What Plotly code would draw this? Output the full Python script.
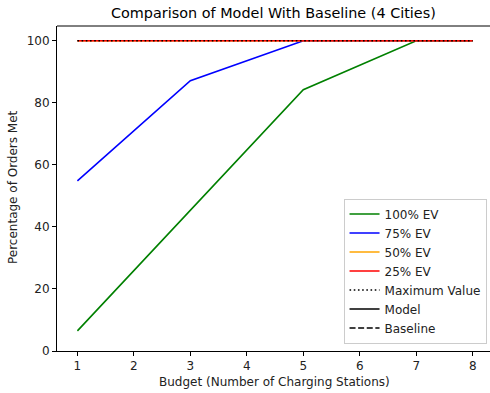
import plotly.graph_objects as go

budget = [1, 3, 5, 7, 8]
ev100 = [6.5, 45.4, 84.2, 100, 100]
ev75 = [54.8, 87.1, 100, 100, 100]
ev50 = [100, 100, 100, 100, 100]
ev25 = [100, 100, 100, 100, 100]
max_value = [100, 100, 100, 100, 100]
x_ticks = [1, 2, 3, 4, 5, 6, 7, 8]
y_ticks = [0, 20, 40, 60, 80, 100]

FONT = "DejaVu Sans"
LW = 1.6
FS = 12

fig = go.Figure()
fig.add_trace(go.Scatter(x=budget, y=ev100, mode="lines", name="100% EV",
                         line=dict(color="#008000", width=LW)))
fig.add_trace(go.Scatter(x=budget, y=ev75, mode="lines", name="75% EV",
                         line=dict(color="#0000ff", width=LW)))
fig.add_trace(go.Scatter(x=budget, y=ev50, mode="lines", name="50% EV",
                         line=dict(color="#ffa500", width=LW)))
fig.add_trace(go.Scatter(x=budget, y=ev25, mode="lines", name="25% EV",
                         line=dict(color="#ff0000", width=LW)))
fig.add_trace(go.Scatter(x=budget, y=max_value, mode="lines", name="Maximum Value",
                         line=dict(color="black", width=LW, dash="1.6px,2.6px")))
fig.add_trace(go.Scatter(x=[None], y=[None], mode="lines", name="Model",
                         line=dict(color="black", width=LW)))
fig.add_trace(go.Scatter(x=[None], y=[None], mode="lines", name="Baseline",
                         line=dict(color="black", width=LW, dash="6px,2.6px")))

axis_common = dict(showline=True, linecolor="black", linewidth=1, showgrid=False,
                   mirror=False, zeroline=False, ticks="outside", ticklen=4, tickwidth=1,
                   tickcolor="black", tickfont=dict(family=FONT, size=FS, color="#222"))

fig.update_layout(
    template="none",
    width=490, height=393,
    margin=dict(l=57, r=0, t=26, b=42, pad=0),
    plot_bgcolor="white", paper_bgcolor="white",
    font=dict(family=FONT, size=FS, color="#222"),
    xaxis=dict(range=[0.6385, 8.3065], tickvals=x_ticks, **axis_common),
    yaxis=dict(range=[0, 104.74], tickvals=y_ticks, **axis_common),
    showlegend=True,
    legend=dict(x=0.992, y=0.023, xanchor="right", yanchor="bottom",
                bgcolor="rgba(255,255,255,0.8)", bordercolor="#cccccc", borderwidth=1,
                font=dict(family=FONT, size=FS, color="#222"),
                tracegroupgap=0),
    annotations=[
        dict(text="Comparison of Model With Baseline (4 Cities)", xref="paper", yref="paper",
             x=0.5, y=1, xanchor="center", yanchor="middle", yshift=13.5, showarrow=False,
             font=dict(family=FONT, size=14.4, color="black")),
        dict(text="Budget (Number of Charging Stations)", xref="paper", yref="paper",
             x=0.5, y=0, xanchor="center", yanchor="middle", yshift=-31, xshift=1,
             showarrow=False, font=dict(family=FONT, size=FS, color="#222")),
        dict(text="Percentage of Orders Met", xref="paper", yref="paper",
             x=0, y=0.5, xanchor="center", yanchor="middle", xshift=-44, yshift=1.5,
             textangle=-90, showarrow=False, font=dict(family=FONT, size=FS, color="#222")),
    ],
    shapes=[
        dict(type="rect", xref="paper", yref="paper", x0=0.9955, x1=1.0, y0=0.004, y1=0.996,
             fillcolor="white", line=dict(width=0), layer="above"),
        dict(type="line", xref="paper", yref="paper", x0=0, x1=1, y0=1, y1=1,
             line=dict(color="black", width=1)),
    ],
)

fig.write_html("out.html")
